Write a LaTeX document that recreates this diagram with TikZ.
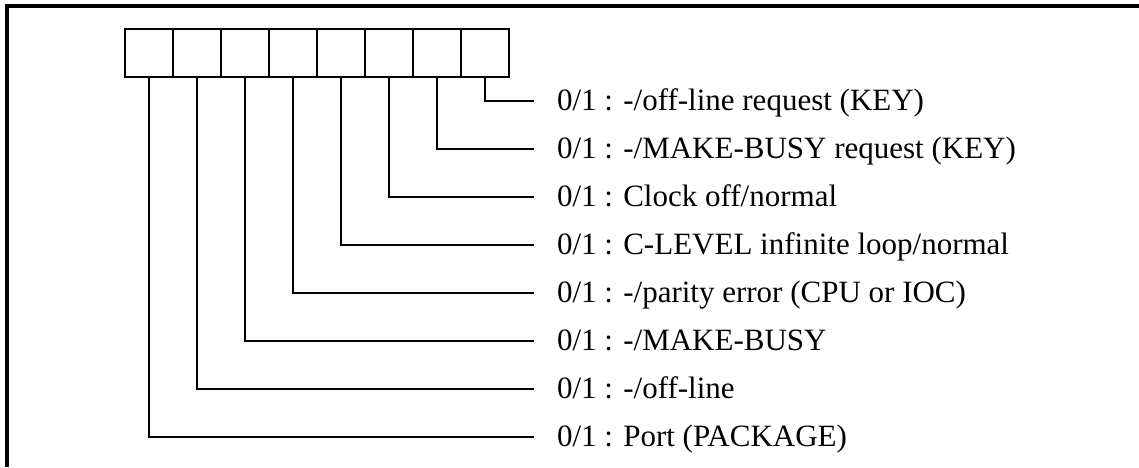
\documentclass[tikz,border=0pt]{standalone}
\usepackage{fontspec}
\setmainfont{Liberation Serif}
\usetikzlibrary{positioning}

\begin{document}
\begin{tikzpicture}[
			x=1pt,y=-1pt,
			node distance=0pt,
			bitbox/.style={draw,line width=2pt,minimum width=48pt,minimum height=48pt,inner sep=0pt,outer sep=0pt},
			bitlabel/.style={anchor=west,inner xsep=23pt,inner ysep=0pt,outer sep=0pt,text height=20pt,text depth=0pt,font=\fontsize{31}{36}\selectfont},
			wire/.style={line width=2pt},
			frame/.style={line width=3.5pt}
			]
			\useasboundingbox (0,0) rectangle (1139,467);
			\draw[frame] (7,467) |- (1139,6);
			\node[bitbox] (b1) at (149,53) {};
			\node[bitbox] (b2) [right=of b1] {};
			\node[bitbox] (b3) [right=of b2] {};
			\node[bitbox] (b4) [right=of b3] {};
			\node[bitbox] (b5) [right=of b4] {};
			\node[bitbox] (b6) [right=of b5] {};
			\node[bitbox] (b7) [right=of b6] {};
			\node[bitbox] (b8) [right=of b7] {};
			\node[bitlabel] (l8) at (534,100.7) {0/1 : -/off-line request (KEY)};
			\node[bitlabel] (l7) at (534,148.7) {0/1 : -/MAKE-BUSY request (KEY)};
			\node[bitlabel] (l6) at (534,196.7) {0/1 : Clock off/normal};
			\node[bitlabel] (l5) at (534,244.7) {0/1 : C-LEVEL infinite loop/normal};
			\node[bitlabel] (l4) at (534,292.7) {0/1 : -/parity error (CPU or IOC)};
			\node[bitlabel] (l3) at (534,340.7) {0/1 : -/MAKE-BUSY};
			\node[bitlabel] (l2) at (534,388.7) {0/1 : -/off-line};
			\node[bitlabel] (l1) at (534,436.7) {0/1 : Port (PACKAGE)};
			\draw[wire] (b8.south) |- (l8.west);
			\draw[wire] (b7.south) |- (l7.west);
			\draw[wire] (b6.south) |- (l6.west);
			\draw[wire] (b5.south) |- (l5.west);
			\draw[wire] (b4.south) |- (l4.west);
			\draw[wire] (b3.south) |- (l3.west);
			\draw[wire] (b2.south) |- (l2.west);
			\draw[wire] (b1.south) |- (l1.west);
		\end{tikzpicture}
\end{document}
